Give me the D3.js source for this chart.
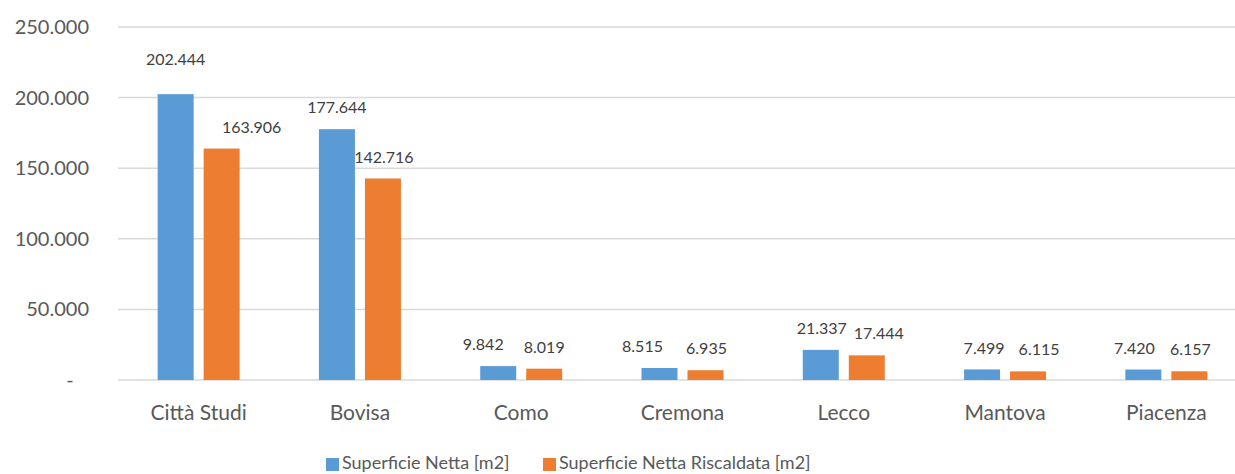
<!DOCTYPE html>
<html>
<head>
<meta charset="utf-8">
<script src="https://cdn.jsdelivr.net/npm/d3@7"></script>
<style>
  body { margin: 0; background: #fff; }
  svg { display: block; font-family: Lato, "Open Sans", sans-serif; }
</style>
</head>
<body>
<svg id="chart"></svg>
<script>
// data
const sedi = ["Città Studi", "Bovisa", "Como", "Cremona", "Lecco", "Mantova", "Piacenza"];
const serie = ["Superficie Netta [m2]", "Superficie Netta Riscaldata [m2]"];
const netta = [202444, 177644, 9842, 8515, 21337, 7499, 7420];
const riscaldata = [163906, 142716, 8019, 6935, 17444, 6115, 6157];
const yTicks = [0, 50000, 100000, 150000, 200000, 250000];
const yTickLabels = ["-", "50.000", "100.000", "150.000", "200.000", "250.000"];

// label nudges (the labels were moved by hand in the original)
const nudgeX = [[0, 30], [0, 1], [-15, 0], [-17, 1], [1, 12], [2, 11], [-9, 1]];
const nudgeY = [[-13, 0], [0, 0], [0, 0], [0, 0], [0, 0], [0, 0], [0, 0]];

const width = 1235, height = 474;
const colors = ["#5B9BD5", "#ED7D31"];
const fmt = v => d3.format(",")(v).replace(/,/g, ".");

const svg = d3.select("#chart").attr("width", width).attr("height", height);

const x0 = d3.scaleBand().domain(sedi).range([118, 1247]);
const x1 = d3.scaleBand().domain(serie).range([0, 82]).paddingInner(10 / 46);
const y = d3.scaleLinear().domain([0, 250000]).range([380, 27]);

// gridlines
svg.append("g")
  .selectAll("line")
  .data(yTicks)
  .join("line")
  .attr("x1", 118).attr("x2", 1247)
  .attr("y1", d => y(d)).attr("y2", d => y(d))
  .attr("stroke", "#d9d9d9")
  .attr("stroke-width", 1.5);

// y axis labels
const yAxis = d3.axisLeft(y)
  .tickValues(yTicks)
  .tickSize(0)
  .tickPadding(0)
  .tickFormat((d, i) => yTickLabels[i] === "-" ? "-\u00a0\u00a0\u00a0" : yTickLabels[i]);

svg.append("g")
  .attr("transform", "translate(89,0)")
  .call(yAxis)
  .call(g => g.select(".domain").remove())
  .selectAll("text")
  .attr("fill", "#595959")
  .style("font-size", "20px")
  .style("font-family", "Lato, 'Open Sans', sans-serif");

// category labels
svg.append("g")
  .selectAll("text")
  .data(sedi)
  .join("text")
  .attr("x", d => x0(d) + x0.bandwidth() / 2)
  .attr("y", 420)
  .attr("text-anchor", "middle")
  .attr("fill", "#595959")
  .style("font-size", "21px")
  .text(d => d);

const rows = sedi.map((s, i) => ({ sede: s, i: i, vals: [netta[i], riscaldata[i]] }));
const off = (x0.bandwidth() - 82) / 2;

const groups = svg.append("g")
  .selectAll("g")
  .data(rows)
  .join("g")
  .attr("transform", d => `translate(${x0(d.sede) + off},0)`);

groups.selectAll("rect")
  .data(d => d.vals.map((v, k) => ({ v: v, k: k })))
  .join("rect")
  .attr("x", d => x1(serie[d.k]))
  .attr("width", x1.bandwidth())
  .attr("y", d => y(d.v))
  .attr("height", d => y(0) - y(d.v))
  .attr("fill", d => colors[d.k]);

groups.selectAll("text")
  .data(d => d.vals.map((v, k) => ({ v: v, k: k, i: d.i })))
  .join("text")
  .attr("x", d => x1(serie[d.k]) + x1.bandwidth() / 2 + nudgeX[d.i][d.k])
  .attr("y", d => y(d.v) - 21.5 + nudgeY[d.i][d.k])
  .attr("dy", "0.35em")
  .attr("text-anchor", "middle")
  .attr("fill", "#404040")
  .style("font-size", "16px")
  .text(d => fmt(d.v));

// legend
const legend = svg.append("g");
const legX = [326, 543];
serie.forEach((s, k) => {
  legend.append("rect")
    .attr("x", legX[k]).attr("y", 458)
    .attr("width", 13).attr("height", 13)
    .attr("fill", colors[k]);
  legend.append("text")
    .attr("x", legX[k] + 16).attr("y", 463)
    .attr("dy", "0.35em")
    .attr("fill", "#595959")
    .style("font-size", "18px")
    .text(s);
});
</script>
</body>
</html>
